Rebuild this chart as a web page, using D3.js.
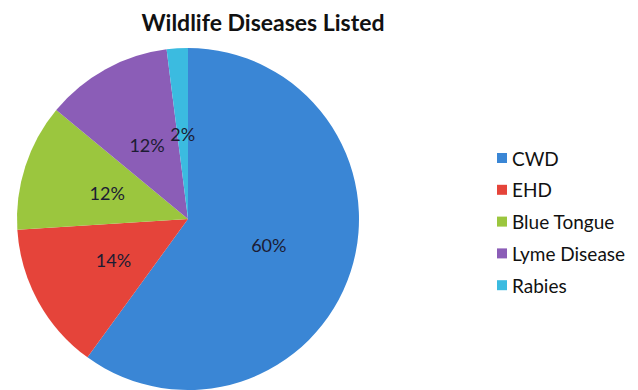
<!DOCTYPE html>
<html>
<head>
<meta charset="utf-8">
<script src="https://cdn.jsdelivr.net/npm/d3@7"></script>
<style>
  html, body { margin: 0; padding: 0; background: #ffffff; }
  svg { display: block; }
</style>
</head>
<body>
<svg id="chart" width="638" height="390"></svg>
<script>
const categories = ["CWD", "EHD", "Blue Tongue", "Lyme Disease", "Rabies"];
const values = [60, 14, 12, 12, 2];
const labels = ["60%", "14%", "12%", "12%", "2%"];
const colors = ["#3a86d5", "#e5443a", "#9bc63e", "#8b5db7", "#3bbbe0"];
const title = "Wildlife Diseases Listed";

const svg = d3.select("#chart");
const cx = 188, cy = 219, r = 171;

svg.append("text")
  .attr("x", 263).attr("y", 31)
  .attr("text-anchor", "middle")
  .attr("font-family", "Lato, 'Open Sans', sans-serif")
  .attr("font-weight", "bold")
  .attr("font-size", 23)
  .attr("fill", "#111")
  .text(title);

const data = categories.map((c, i) => ({ name: c, value: values[i], label: labels[i], color: colors[i] }));
const pie = d3.pie().value(d => d.value).sort(null);
const arcs = pie(data);
const arc = d3.arc().innerRadius(0).outerRadius(r);
const labelArc = d3.arc().innerRadius(85).outerRadius(85);

const g = svg.append("g").attr("transform", `translate(${cx},${cy})`);
g.selectAll("path").data(arcs).enter().append("path")
  .attr("d", arc)
  .attr("fill", d => d.data.color);

g.selectAll("text").data(arcs).enter().append("text")
  .attr("transform", d => `translate(${labelArc.centroid(d)})`)
  .attr("text-anchor", "middle")
  .attr("dominant-baseline", "central")
  .attr("font-family", "Lato, 'Open Sans', sans-serif")
  .attr("font-size", 18)
  .attr("fill", "#1c1c33")
  .text(d => d.data.label);

const legend = svg.append("g").attr("transform", "translate(497,158)");
const item = legend.selectAll("g").data(data).enter().append("g")
  .attr("transform", (d, i) => `translate(0,${i * 31.8})`);
item.append("rect")
  .attr("x", 0).attr("y", -5).attr("width", 10).attr("height", 10)
  .attr("fill", d => d.color);
item.append("text")
  .attr("x", 15).attr("y", 0)
  .attr("dominant-baseline", "central")
  .attr("font-family", "Lato, 'Open Sans', sans-serif")
  .attr("font-size", 19)
  .attr("fill", "#111")
  .text(d => d.name);
</script>
</body>
</html>
